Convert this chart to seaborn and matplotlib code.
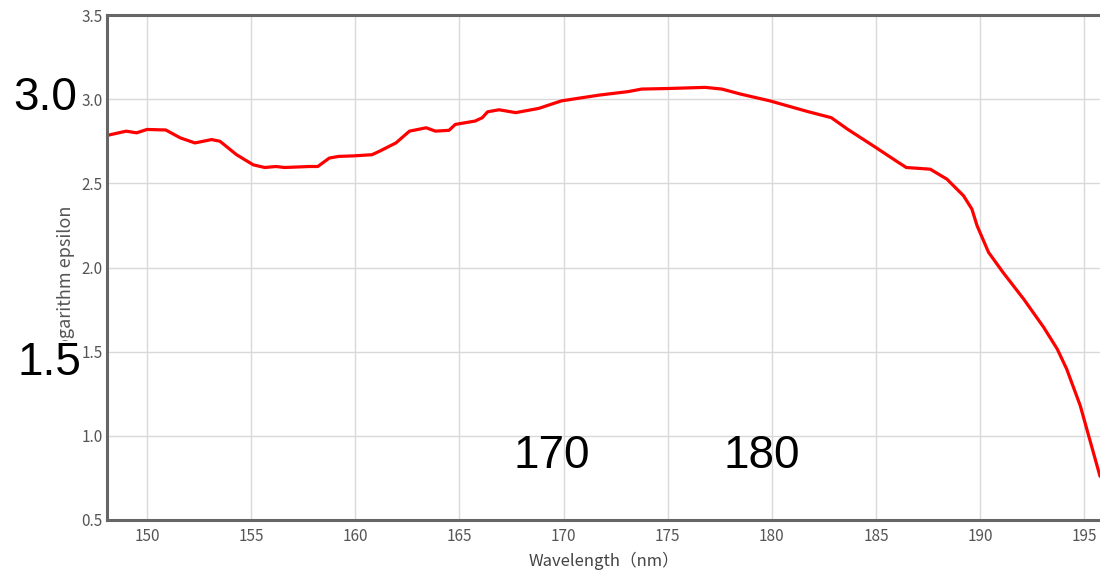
import matplotlib
matplotlib.use("Agg")
import matplotlib.pyplot as plt
import seaborn as sns
import pandas as pd

# spectrum
wavelength = [148.1, 149.0, 149.5, 150.0, 150.9, 151.6, 152.3, 153.1, 153.5, 154.3,
              155.1, 155.65, 156.2, 156.6, 157.8, 158.2, 158.75, 159.2, 159.9, 160.8,
              161.15, 161.95, 162.6, 163.4, 163.85, 164.5, 164.8, 165.75, 166.1, 166.35,
              166.9, 167.7, 168.8, 169.9, 171.7, 173.1, 173.75, 174.9, 176.8, 177.6,
              178.5, 179.9, 181.7, 182.85, 183.65, 184.9, 186.0, 186.45, 187.6, 188.4,
              189.2, 189.6, 189.85, 190.4, 191.1, 192.1, 193.05, 193.7, 194.15, 194.8,
              195.75]
log_eps = [2.785, 2.81, 2.80, 2.82, 2.817, 2.77, 2.74, 2.76, 2.75, 2.67,
           2.61, 2.594, 2.60, 2.594, 2.60, 2.60, 2.65, 2.66, 2.663, 2.67,
           2.69, 2.74, 2.81, 2.83, 2.81, 2.815, 2.85, 2.87, 2.89, 2.925,
           2.937, 2.92, 2.945, 2.99, 3.024, 3.045, 3.06, 3.063, 3.07, 3.06,
           3.03, 2.99, 2.927, 2.89, 2.82, 2.72, 2.63, 2.594, 2.584, 2.525,
           2.426, 2.347, 2.248, 2.09, 1.97, 1.81, 1.644, 1.515, 1.397, 1.18,
           0.76]

x_ticks = [150, 155, 160, 165, 170, 175, 180, 185, 190, 195]
y_ticks = [0.5, 1.0, 1.5, 2.0, 2.5, 3.0, 3.5]

# big overlay labels (text, x px, baseline y px)
overlay = [("3.0", 45, 110), ("1.5", 49, 375), ("170", 552, 468), ("180", 762, 468)]

spec_df = pd.DataFrame({"wl": wavelength, "eps": log_eps})

sns.set_style("whitegrid")
plt.rcParams["font.family"] = ["Noto Sans CJK JP", "DejaVu Sans"]

fig = plt.figure(figsize=(11, 5.72), dpi=100)
ax = fig.add_axes([107 / 1100, 1 - 520 / 572, 993 / 1100, 505 / 572])

sns.lineplot(data=spec_df, x="wl", y="eps", color="#ff0000", linewidth=2.3, ax=ax)

ax.set_xlim(148.08, 195.75)
ax.set_ylim(0.5, 3.5)
ax.set_xticks(x_ticks)
ax.set_yticks(y_ticks)
ax.set_yticklabels([f"{v:.1f}" for v in y_ticks])
ax.grid(True, color="#d9d9d9", linewidth=1.0)
ax.tick_params(axis="both", length=0, labelsize=11, labelcolor="#555555")
ax.tick_params(axis="x", pad=6)
ax.tick_params(axis="y", pad=3)

for side in ["left", "bottom", "top"]:
    ax.spines[side].set_color("#666666")
    ax.spines[side].set_linewidth(2.2)
ax.spines["right"].set_visible(False)

ax.set_xlabel("Wavelength（nm）", fontsize=12, color="#444444")
ax.set_ylabel("Logarithm epsilon", fontsize=13, color="#555555")
ax.xaxis.set_label_coords(0.5, -0.062)
ax.yaxis.set_label_coords(-0.032, 0.47)

for txt, px, py in overlay:
    t = fig.text(px / 1100, 1 - py / 572, txt, fontsize=33, family="Liberation Sans",
                 ha="center", va="baseline", color="black")
    if txt == "1.5":
        t.set_bbox(dict(facecolor="white", edgecolor="none", pad=0))

fig.savefig("out.png", dpi=100)
